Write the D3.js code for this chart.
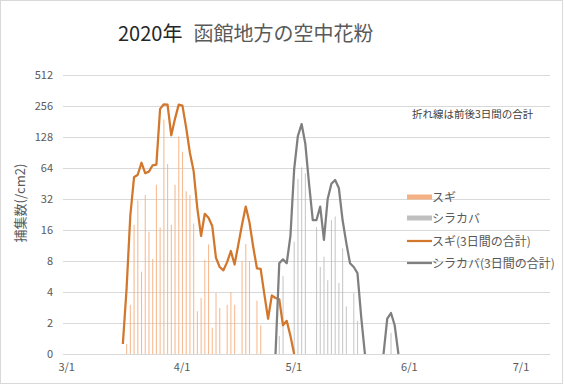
<!DOCTYPE html>
<html>
<head>
<meta charset="utf-8">
<script src="https://cdn.jsdelivr.net/npm/d3@7"></script>
<style>
  body { margin: 0; background: #fff; }
  svg { display: block; font-family: "Noto Sans CJK JP", "Noto Sans", sans-serif; }
</style>
</head>
<body>
<div id="chart"></div>
<script>
// daily counts and 3-day sums
var sugiStart = "2020-03-17";
var sugiDaily = [1.25, 3, 18, 31, 6.3, 35, 15.4, 8.4, 44, 17, 190, 70, 18, 44, 130, 92, 38, 35, 18.5, 2.6,
  3.5, 8.2, 11.6, 1.8, 3.9, 2.8, 0, 3, 4, 3, 0, 8, 11.7, 8, 0, 3.3, 1.9];

var sugiLineStart = "2020-03-16";
var sugiSum3 = [1.25, 4.3, 22, 52, 55, 72, 57, 59, 68, 69, 240, 266, 264, 133, 192, 264, 258, 158, 90, 60,
  26, 14, 23, 21, 17.5, 8.6, 7, 6.5, 7.8, 10, 7.4, 11.5, 18, 27, 19, 11, 6.8, 6.7, 3.8, 2.2,
  3.7, 3.5, 3.4, 1.9, 2.1, 1.5, 0];

var birchStart = "2020-04-27";
var birchDaily = [1.5, 5.7, 0, 0, 12.3, 50, 65, 57, 0, 0, 17, 7, 8.8, 5.2, 20, 21.6, 4.9, 10.6, 2.9, 0,
  3.9, 2.1, 0, 0, 0, 0, 0, 0, 0, 0, 1.6];

var birchLineStart = "2020-04-26";
var birchSum3 = [0, 7.6, 8.3, 7.6, 14, 62, 131, 171, 110, 45, 20, 20, 27, 12.8, 32, 45, 49, 41, 20, 12,
  7.6, 7, 6.1, 2.3, 0, null, null, null, null, 0, 2.2, 2.5, 1.9, 0];

var yTicks = [1, 2, 4, 8, 16, 32, 64, 128, 256, 512];
var xTicks = ["2020-03-01", "2020-04-01", "2020-05-01", "2020-06-01", "2020-07-01"];

var titleYear = "2020年";
var titleText = "函館地方の空中花粉";
var yTitle = "捕集数(/cm2)";
var note = "折れ線は前後3日間の合計";
var legendNames = ["スギ", "シラカバ", "スギ(3日間の合計)", "シラカバ(3日間の合計)"];

var orangeBar = "#f4b183", grayBar = "#bfbfbf";
var orangeLine = "#d2772c", grayLine = "#7f7f7f";
var textColor = "#595959";

var w = 565, h = 386;
var parse = d3.utcParse("%Y-%m-%d");

function toPoints(start, values) {
  var s = parse(start);
  return values.map(function(v, i) {
    return { date: d3.utcDay.offset(s, i), v: v };
  });
}

var svg = d3.select("#chart").append("svg")
  .attr("width", w)
  .attr("height", h);

svg.append("rect")
  .attr("x", 0.5).attr("y", 0.5)
  .attr("width", w - 3).attr("height", h - 3)
  .attr("fill", "#fff")
  .attr("stroke", "#d9d9d9");

var x = d3.scaleUtc()
  .domain([parse("2020-03-01"), parse("2020-07-09")])
  .range([66.2, 550.3]);

var y = d3.scaleLog().base(2)
  .domain([1, 512])
  .range([354, 75])
  .clamp(true);

function yv(v) { return y(Math.max(v, 1)); }

// grid
svg.append("g")
  .selectAll("line")
  .data(yTicks)
  .enter()
  .append("line")
  .attr("x1", 63)
  .attr("x2", 550)
  .attr("y1", function(d) { return Math.round(y(d)) + 0.5; })
  .attr("y2", function(d) { return Math.round(y(d)) + 0.5; })
  .attr("stroke", "#d9d9d9")
  .attr("stroke-width", 1);

// y axis labels
var yAxis = d3.axisLeft(y)
  .tickValues(yTicks)
  .tickSize(0)
  .tickPadding(0)
  .tickFormat(function(d) { return d === 1 ? "0" : String(d); });

svg.append("g")
  .attr("transform", "translate(53,0)")
  .call(yAxis)
  .call(function(g) {
    g.select(".domain").remove();
    g.selectAll("text")
      .attr("fill", textColor)
      .attr("font-size", "11px")
      .attr("font-family", "\"Noto Sans CJK JP\", sans-serif");
  });

// x axis
var xAxis = d3.axisBottom(x)
  .tickValues(xTicks.map(parse))
  .tickSize(0)
  .tickPadding(9)
  .tickFormat(d3.utcFormat("%-m/%-d"));

svg.append("g")
  .attr("transform", "translate(0,354)")
  .call(xAxis)
  .call(function(g) {
    g.select(".domain").attr("stroke", "#d9d9d9").attr("d", "M63,0.5H550");
    g.selectAll("text")
      .attr("fill", textColor)
      .attr("font-size", "11px")
      .attr("font-family", "\"Noto Sans CJK JP\", sans-serif");
  });

// bars (thin, like the original)
function drawBars(data, color) {
  svg.append("g")
    .selectAll("rect")
    .data(data.filter(function(d) { return d.v > 1; }))
    .enter()
    .append("rect")
    .attr("x", function(d) { return x(d.date) + 0.3; })
    .attr("width", 1.1)
    .attr("y", function(d) { return yv(d.v); })
    .attr("height", function(d) { return 354 - yv(d.v); })
    .attr("fill", color)
    .attr("fill-opacity", 0.85);
}

drawBars(toPoints(sugiStart, sugiDaily), orangeBar);
drawBars(toPoints(birchStart, birchDaily), grayBar);

// lines
var line = d3.line()
  .defined(function(d) { return d.v !== null; })
  .x(function(d) { return x(d.date) + 0.8; })
  .y(function(d) { return yv(d.v); });

svg.append("path")
  .datum(toPoints(sugiLineStart, sugiSum3))
  .attr("d", line)
  .attr("fill", "none")
  .attr("stroke", orangeLine)
  .attr("stroke-width", 2.25)
  .attr("stroke-linejoin", "round");

svg.append("path")
  .datum(toPoints(birchLineStart, birchSum3))
  .attr("d", line)
  .attr("fill", "none")
  .attr("stroke", grayLine)
  .attr("stroke-width", 2.25)
  .attr("stroke-linejoin", "round");

// title
var title = svg.append("text")
  .attr("x", 118)
  .attr("y", 41)
  .attr("font-size", "20px");
title.append("tspan").attr("fill", "#262626").text(titleYear);
title.append("tspan").attr("fill", textColor).attr("dx", 11).text(titleText);

// y title
svg.append("text")
  .attr("transform", "translate(25,203) rotate(-90)")
  .attr("text-anchor", "middle")
  .attr("font-size", "13px")
  .attr("fill", textColor)
  .text(yTitle);

// note
svg.append("text")
  .attr("x", 412)
  .attr("y", 118)
  .attr("font-size", "10.5px")
  .attr("fill", "#404040")
  .text(note);

// legend
var legend = svg.append("g");
var legendY = [197, 218, 241, 263];
var legendKinds = [
  { color: orangeBar, type: "bar" },
  { color: grayBar, type: "bar" },
  { color: orangeLine, type: "line" },
  { color: grayLine, type: "line" }
];

legendKinds.forEach(function(k, i) {
  if (k.type === "bar") {
    legend.append("rect")
      .attr("x", 407).attr("y", legendY[i] - 2.5)
      .attr("width", 25).attr("height", 5)
      .attr("fill", k.color);
  } else {
    legend.append("line")
      .attr("x1", 407).attr("x2", 432)
      .attr("y1", legendY[i]).attr("y2", legendY[i])
      .attr("stroke", k.color)
      .attr("stroke-width", 2.25);
  }
  legend.append("text")
    .attr("x", 432)
    .attr("y", legendY[i] + 4.5)
    .attr("font-size", "12px")
    .attr("fill", textColor)
    .text(legendNames[i]);
});
</script>
</body>
</html>
